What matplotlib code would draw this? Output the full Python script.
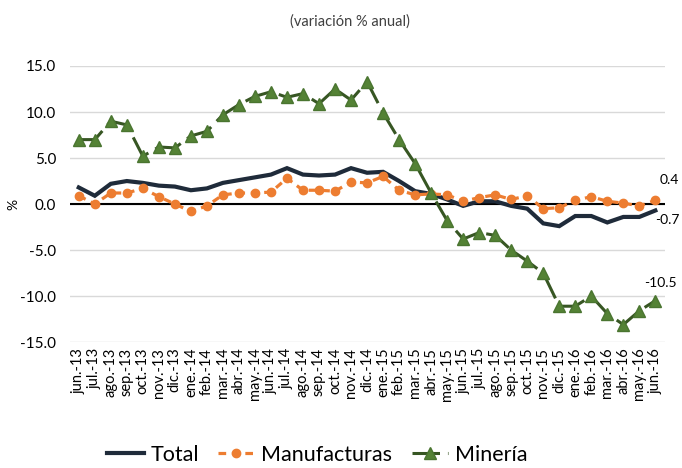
import matplotlib.pyplot as plt
from matplotlib.ticker import FormatStrFormatter

plt.rcParams['font.family'] = ['Lato', 'DejaVu Sans']

# -----------------------------
# Datos (variación % anual)
# -----------------------------
meses = ["jun.-13", "jul.-13", "ago.-13", "sep.-13", "oct.-13", "nov.-13", "dic.-13",
         "ene.-14", "feb.-14", "mar.-14", "abr.-14", "may.-14", "jun.-14", "jul.-14",
         "ago.-14", "sep.-14", "oct.-14", "nov.-14", "dic.-14", "ene.-15", "feb.-15",
         "mar.-15", "abr.-15", "may.-15", "jun.-15", "jul.-15", "ago.-15", "sep.-15",
         "oct.-15", "nov.-15", "dic.-15", "ene.-16", "feb.-16", "mar.-16", "abr.-16",
         "may.-16", "jun.-16"]

total = [1.8, 0.9, 2.2, 2.5, 2.3, 2.0, 1.9, 1.5, 1.7, 2.3, 2.6, 2.9, 3.2, 3.9,
         3.2, 3.1, 3.2, 3.9, 3.4, 3.5, 2.5, 1.4, 1.1, 0.5, -0.2, 0.3, 0.3, -0.2,
         -0.5, -2.1, -2.4, -1.3, -1.3, -2.0, -1.4, -1.4, -0.7]

manufacturas = [0.9, 0.0, 1.2, 1.2, 1.7, 0.8, 0.0, -0.8, -0.2, 1.0, 1.2, 1.2, 1.3, 2.8,
                1.5, 1.5, 1.4, 2.4, 2.3, 3.0, 1.5, 1.0, 1.1, 1.0, 0.3, 0.7, 1.0, 0.5,
                0.9, -0.5, -0.4, 0.4, 0.8, 0.3, 0.1, -0.2, 0.4]

mineria = [7.0, 7.0, 9.0, 8.6, 5.2, 6.2, 6.1, 7.4, 7.9, 9.7, 10.8, 11.7, 12.2, 11.6,
           12.0, 10.9, 12.5, 11.3, 13.3, 9.9, 7.0, 4.4, 1.2, -1.8, -3.8, -3.1, -3.4,
           -5.0, -6.2, -7.5, -11.1, -11.1, -10.0, -11.9, -13.1, -11.6, -10.5]

x = list(range(len(meses)))

fig = plt.figure(figsize=(6.82, 4.68), dpi=100)
ax = fig.add_axes([0.1026, 0.269, 0.8724, 0.590])

ax.plot(x, total, color="#1f2b3a", lw=3, solid_joinstyle="miter", label="Total", zorder=3)
ax.plot(x, manufacturas, color="#ED7D31", lw=2.3, linestyle=(0, (2.4, 1.8)),
        marker="o", markersize=6, label="Manufacturas", zorder=4)
ax.plot(x, mineria, color="#375623", lw=2.2, linestyle=(0, (9, 2.6)),
        marker="^", markersize=8, markerfacecolor="#548235", markeredgecolor="#4a7530",
        label="Minería", zorder=5)

ax.axhline(0, color="black", lw=1.5, zorder=2)

ax.set_ylim(-15, 15)
ax.set_xlim(-0.55, 36.6)
ax.set_yticks([-15, -10, -5, 0, 5, 10, 15])
ax.yaxis.set_major_formatter(FormatStrFormatter("%.1f"))
ax.yaxis.grid(True, color="#d9d9d9", lw=1)
ax.set_axisbelow(True)
for s in ax.spines.values():
    s.set_visible(False)
ax.tick_params(axis="y", length=0, labelsize=11, pad=10)
ax.tick_params(axis="x", length=0, labelsize=10.5, pad=4)
ax.set_xticks(x)
ax.set_xticklabels(meses, rotation=90)
ax.set_ylabel("%", fontsize=10)
ax.yaxis.set_label_coords(-0.085, 0.5)

# etiquetas del ultimo dato
ax.annotate(f"{manufacturas[-1]:.1f}", (x[-1], manufacturas[-1]), xytext=(3, 12),
            textcoords="offset points", fontsize=10)
ax.annotate(f"{total[-1]:.1f}", (x[-1], total[-1]), xytext=(0, -10),
            textcoords="offset points", fontsize=10)
ax.annotate(f"{mineria[-1]:.1f}", (x[-1], mineria[-1]), xytext=(-8, 10),
            textcoords="offset points", fontsize=10)

fig.text(0.513, 0.955, "(variación % anual)", ha="center", va="center",
         fontsize=10.5, color="#404040")

fig.legend(loc="lower center", bbox_to_anchor=(0.465, -0.035), ncol=3, frameon=False,
           fontsize=15.5, handlelength=1.7, columnspacing=0.9, handletextpad=0.3)

fig.savefig("out.png", dpi=100)
